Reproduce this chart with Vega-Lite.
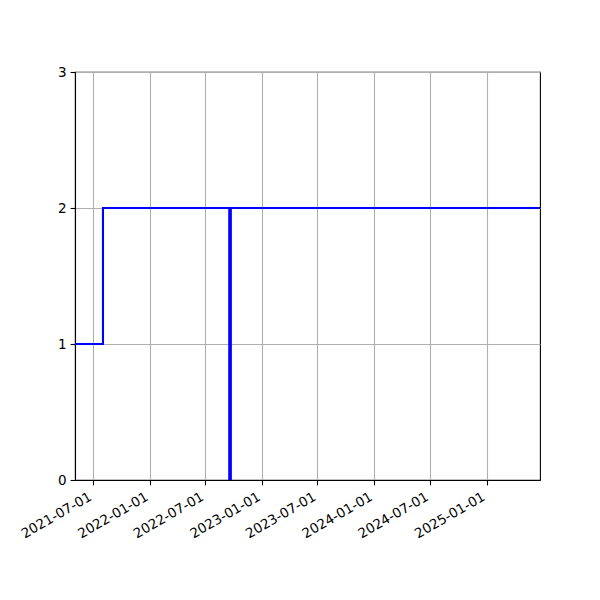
{
  "$schema": "https://vega.github.io/schema/vega-lite/v6.json",
  "width": 465,
  "height": 408,
  "autosize": "none",
  "padding": {"left": 75, "top": 72, "right": 60, "bottom": 120},
  "background": "white",
  "config": {
    "view": {"stroke": "black", "strokeWidth": 1.1},
    "font": "DejaVu Sans",
    "axis": {
      "domainColor": "black",
      "domainWidth": 1.1,
      "tickColor": "black",
      "tickWidth": 1.1,
      "tickSize": 4.9,
      "labelFont": "DejaVu Sans",
      "labelFontSize": 13.5,
      "labelColor": "black",
      "gridColor": "#b0b0b0",
      "gridWidth": 1.1,
      "gridOpacity": 1,
      "title": null
    }
  },
  "data": {
    "values": [
      {"date": "2021-05-03", "value": 1},
      {"date": "2021-08-02", "value": 2},
      {"date": "2022-09-17", "value": 0},
      {"date": "2022-09-22", "value": 2},
      {"date": "2025-06-24", "value": 2}
    ]
  },
  "mark": {"type": "line", "interpolate": "step-after", "color": "#0000ff", "strokeWidth": 2.1, "clip": true},
  "encoding": {
    "x": {
      "field": "date",
      "type": "temporal",
      "scale": {"type": "utc", "domain": [{"year": 2021, "month": 5, "date": 3, "utc": true}, {"year": 2025, "month": 6, "date": 24, "utc": true}], "nice": false},
      "axis": {
        "values": [
          {"year": 2021, "month": 7, "date": 1, "utc": true},
          {"year": 2022, "month": 1, "date": 1, "utc": true},
          {"year": 2022, "month": 7, "date": 1, "utc": true},
          {"year": 2023, "month": 1, "date": 1, "utc": true},
          {"year": 2023, "month": 7, "date": 1, "utc": true},
          {"year": 2024, "month": 1, "date": 1, "utc": true},
          {"year": 2024, "month": 7, "date": 1, "utc": true},
          {"year": 2025, "month": 1, "date": 1, "utc": true}
        ],
        "labelExpr": "utcFormat(datum.value, '%Y-%m-%d')",
        "labelAngle": -30,
        "labelAlign": "right",
        "labelBaseline": "top",
        "labelPadding": 4.5,
        "labelOffset": -6.5,
        "labelOverlap": false,
        "labelFlush": false
      }
    },
    "y": {
      "field": "value",
      "type": "quantitative",
      "scale": {"domain": [0, 3], "nice": false},
      "axis": {"values": [0, 1, 2, 3], "format": "d", "labelPadding": 4}
    }
  }
}
